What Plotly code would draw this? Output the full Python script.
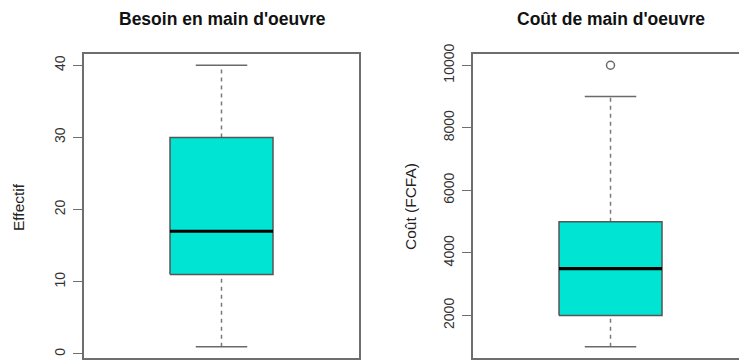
import plotly.graph_objects as go

# Summary statistics for the two boxplots
panel_titles = ["Besoin en main d'oeuvre", "Coût de main d'oeuvre"]
y_titles = ["Effectif", "Coût (FCFA)"]
lower_whisker = [1, 1000]
first_quartile = [11, 2000]
medians = [17, 3500]
third_quartile = [30, 5000]
upper_whisker = [40, 9000]
outliers = [[], [10000]]
y_ticks = [[0, 10, 20, 30, 40], [2000, 4000, 6000, 8000, 10000]]

FILL = "#00E5D3"
EDGE = "#555555"
AXIS = "#6e6e6e"
FONT = "Liberation Sans, Arial, Helvetica, sans-serif"
W, H = 739, 360

POS = 1.0          # box position on the category axis
HALF_BOX = 0.2     # half width of the box
HALF_CAP = 0.1     # half width of the whisker staples

fig = go.Figure()

x_domains = [[84 / W, 359 / W], [473 / W, 1.0]]
x_ranges = [[POS - 0.534, POS + 0.534], [POS - 0.534, POS + 0.499]]
y_domain = [1 - 358 / H, 1 - 54 / H]
title_x = [222 / W, 610.5 / W]
ytitle_x = [19 / W, 411 / W]

for i in range(2):
    xa = "x" if i == 0 else "x2"
    ya = "y" if i == 0 else "y2"
    lo, q1, md, q3, hi = (lower_whisker[i], first_quartile[i], medians[i],
                          third_quartile[i], upper_whisker[i])

    # whiskers (dashed)
    for a, b in ((q3, hi), (lo, q1)):
        fig.add_trace(go.Scatter(x=[POS, POS], y=[a, b], mode="lines",
                                 line=dict(color="#7a7a7a", width=1.5, dash="4px,4px"),
                                 xaxis=xa, yaxis=ya, hoverinfo="skip", showlegend=False))
    # staples
    for v in (lo, hi):
        fig.add_trace(go.Scatter(x=[POS - HALF_CAP, POS + HALF_CAP], y=[v, v], mode="lines",
                                 line=dict(color="#6a6a6a", width=1.5),
                                 xaxis=xa, yaxis=ya, hoverinfo="skip", showlegend=False))
    # box
    fig.add_trace(go.Scatter(x=[POS - HALF_BOX, POS + HALF_BOX, POS + HALF_BOX, POS - HALF_BOX, POS - HALF_BOX],
                             y=[q1, q1, q3, q3, q1], mode="lines", fill="toself",
                             fillcolor=FILL, line=dict(color=EDGE, width=1.5),
                             xaxis=xa, yaxis=ya, hoverinfo="skip", showlegend=False))
    # median
    fig.add_trace(go.Scatter(x=[POS - HALF_BOX, POS + HALF_BOX], y=[md, md], mode="lines",
                             line=dict(color="black", width=3.2),
                             xaxis=xa, yaxis=ya, hoverinfo="skip", showlegend=False))
    # outliers
    if outliers[i]:
        fig.add_trace(go.Scatter(x=[POS] * len(outliers[i]), y=outliers[i], mode="markers",
                                 marker=dict(symbol="circle-open", size=8, color="#6a6a6a",
                                             line=dict(color="#6a6a6a", width=1.5)),
                                 xaxis=xa, yaxis=ya, hoverinfo="skip", showlegend=False))

    # y range padded by 4% like base graphics
    vals = [lo, hi] + outliers[i]
    span = max(vals) - min(vals)
    y_range = [min(vals) - 0.04 * span, max(vals) + 0.04 * span]

    xkey = "xaxis" if i == 0 else "xaxis2"
    ykey = "yaxis" if i == 0 else "yaxis2"
    fig.update_layout(**{
        xkey: dict(domain=x_domains[i], range=x_ranges[i], anchor=ya,
                   showline=True, mirror=True, linecolor=AXIS, linewidth=1.5,
                   showgrid=False, zeroline=False, showticklabels=False, ticks="",
                   automargin=False, fixedrange=True),
        ykey: dict(domain=y_domain, range=y_range, anchor=xa,
                   showline=True, mirror=(i == 0), linecolor=AXIS, linewidth=1.5,
                   showgrid=False, zeroline=False,
                   tickmode="array", tickvals=y_ticks[i],
                   ticktext=[str(t) for t in y_ticks[i]],
                   ticks="outside", ticklen=9, tickcolor=AXIS, tickwidth=1.3,
                   ticklabelstandoff=3,
                   tickangle=-90, tickfont=dict(family=FONT, size=14, color="#333333"),
                   automargin=False, fixedrange=True),
    })

    fig.add_annotation(text=f"<b>{panel_titles[i]}</b>", xref="paper", yref="paper",
                       x=title_x[i], y=1 - 19 / H, xanchor="center", yanchor="middle",
                       showarrow=False, font=dict(family=FONT, size=17.5, color="#111111"))
    fig.add_annotation(text=y_titles[i], xref="paper", yref="paper",
                       x=ytitle_x[i], y=1 - 207 / H, xanchor="center", yanchor="middle",
                       textangle=-90, showarrow=False,
                       font=dict(family=FONT, size=15.5, color="#222222"))

fig.update_layout(width=W, height=H, margin=dict(l=0, r=0, t=0, b=0, pad=0),
                  autosize=False,
                  paper_bgcolor="white", plot_bgcolor="white", showlegend=False)

fig.write_html("out.html", config={"displayModeBar": False})
